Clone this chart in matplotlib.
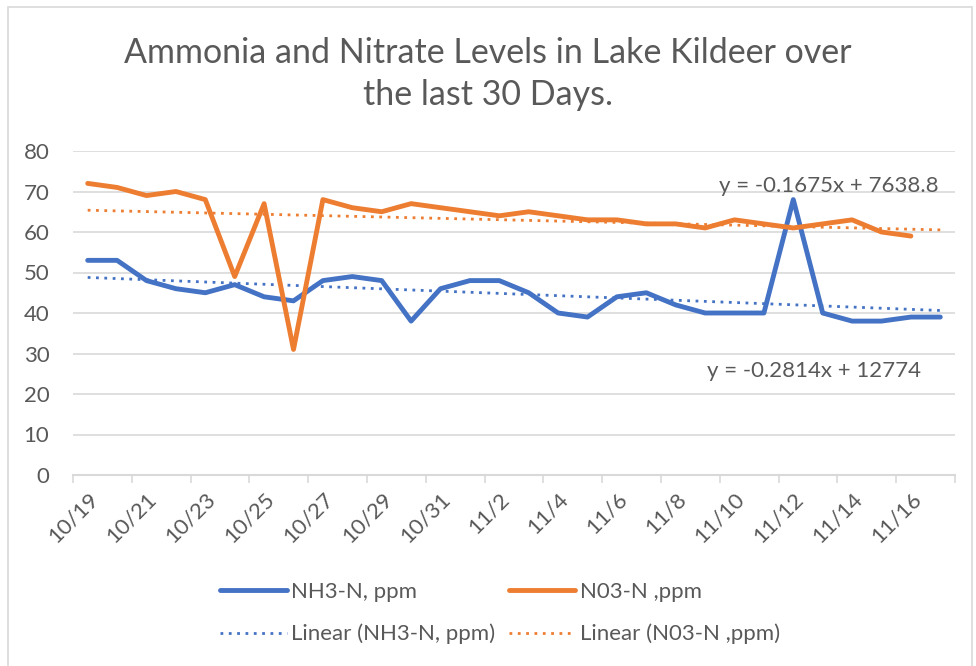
import numpy as np
import matplotlib
matplotlib.use("Agg")
import matplotlib.pyplot as plt
from matplotlib.patches import Rectangle

plt.rcParams['font.family'] = ['Lato', 'DejaVu Sans']

# ── data ─────────────────────────────────────────────────────────────────────
dates = ["10/19", "10/20", "10/21", "10/22", "10/23", "10/24", "10/25", "10/26",
         "10/27", "10/28", "10/29", "10/30", "10/31", "11/1", "11/2", "11/3",
         "11/4", "11/5", "11/6", "11/7", "11/8", "11/9", "11/10", "11/11",
         "11/12", "11/13", "11/14", "11/15", "11/16", "11/17"]
nh3 = [53, 53, 48, 46, 45, 47, 44, 43, 48, 49, 48, 38, 46, 48, 48, 45,
       40, 39, 44, 45, 42, 40, 40, 40, 68, 40, 38, 38, 39, 39]
no3 = [72, 71, 69, 70, 68, 49, 67, 31, 68, 66, 65, 67, 66, 65, 64, 65,
       64, 63, 63, 62, 62, 61, 63, 62, 61, 62, 63, 60, 59]
eq_nh3 = "y = -0.2814x + 12774"
eq_no3 = "y = -0.1675x + 7638.8"

BLUE = "#4472C4"
ORANGE = "#ED7D31"
TXT = "#595959"
GRID = "#D9D9D9"
FS = 16

x_all = np.arange(len(dates))
x_nh3 = np.arange(len(nh3))
x_no3 = np.arange(len(no3))

# linear trendlines, drawn over the whole category range like Excel does
fit_nh3 = np.polyfit(x_nh3, nh3, 1)
fit_no3 = np.polyfit(x_no3, no3, 1)

fig = plt.figure(figsize=(9.76, 6.66), dpi=100)
ax = fig.add_axes([73 / 976, 1 - 475 / 666, 882 / 976, 324 / 666])

l1, = ax.plot(x_nh3, nh3, color=BLUE, lw=3.5, solid_joinstyle="round",
              solid_capstyle="round", label="NH3-N, ppm", zorder=4)
l2, = ax.plot(x_no3, no3, color=ORANGE, lw=3.5, solid_joinstyle="round",
              solid_capstyle="round", label="N03-N ,ppm", zorder=5)
t1, = ax.plot(x_all, np.polyval(fit_nh3, x_all), color=BLUE, lw=2,
              linestyle=(0, (1, 2)), label="Linear (NH3-N, ppm)", zorder=3)
t2, = ax.plot(x_all, np.polyval(fit_no3, x_all), color=ORANGE, lw=2,
              linestyle=(0, (1, 2)), label="Linear (N03-N ,ppm)", zorder=3)

ax.set_xlim(-0.5, len(dates) - 0.5)
ax.set_ylim(0, 80)
ax.set_yticks(range(0, 81, 10))
ax.grid(axis="y", color=GRID, lw=1.2)
ax.set_axisbelow(True)

ax.set_xticks(x_all[::2])
ax.set_xticklabels(dates[::2], rotation=45, ha="right", rotation_mode="anchor",
                   fontsize=FS, color=TXT)
ax.set_xticks(np.arange(-0.5, len(dates), 2), minor=True)
ax.tick_params(axis="x", which="major", length=0, pad=10)
ax.tick_params(axis="x", which="minor", length=6, color=GRID, width=1.2)
ax.tick_params(axis="y", length=0, labelsize=FS, labelcolor=TXT, pad=17)

for s in ["top", "right", "left"]:
    ax.spines[s].set_visible(False)
ax.spines["bottom"].set_color(GRID)
ax.spines["bottom"].set_linewidth(1.5)

ax.text(25.2, 71.4, eq_no3, fontsize=FS, color=TXT, ha="center", va="center")
ax.text(24.7, 25.7, eq_nh3, fontsize=FS, color=TXT, ha="center", va="center")

fig.text(0.5, 1 - 74 / 666, "Ammonia and Nitrate Levels in Lake Kildeer over\nthe last 30 Days.",
         ha="center", va="center", fontsize=24.5, color=TXT, linespacing=1.38)

fig.legend(handles=[l1, t1, l2, t2], ncol=2, loc="center",
           bbox_to_anchor=(500 / 976, 1 - 613 / 666), frameon=False,
           fontsize=FS, labelcolor=TXT, handlelength=3.0, handletextpad=0.2,
           columnspacing=0.6, labelspacing=1.0)

fig.add_artist(Rectangle((8 / 976, -0.01), 964 / 976, 1 - 7 / 666 + 0.01,
                         transform=fig.transFigure, fill=False,
                         edgecolor=GRID, lw=1.2))

fig.savefig("out.png", dpi=100)
